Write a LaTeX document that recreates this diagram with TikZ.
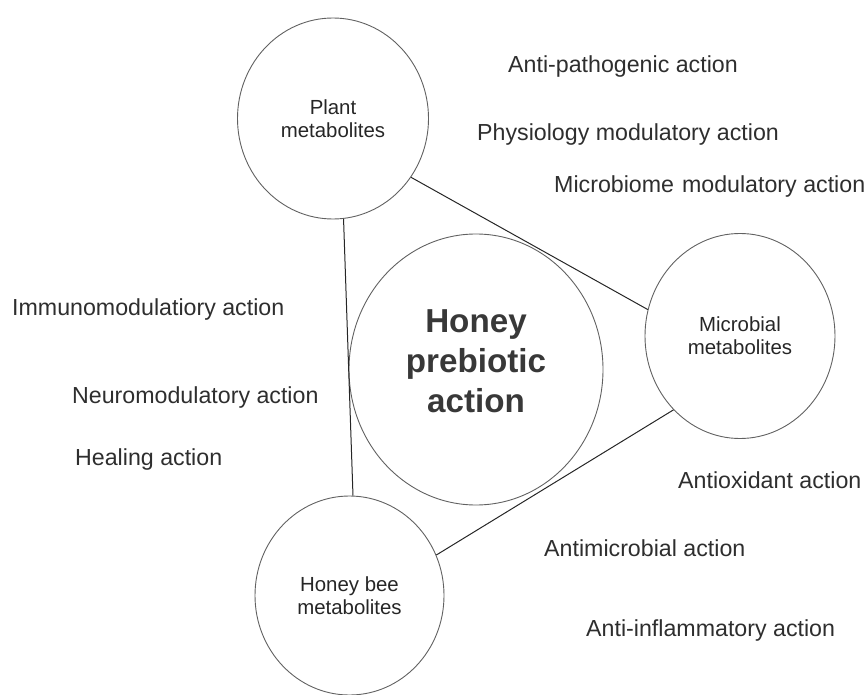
\documentclass[tikz,border=0pt]{standalone}
\usepackage{fontspec}
\setmainfont{Liberation Sans}
\usetikzlibrary{shapes.geometric}
\tikzset{
	source/.style={ellipse, draw=black!62, line width=0.9pt, inner sep=0pt, align=center, text=black!85, font=\fontsize{20.4}{23}\selectfont},
	action/.style={anchor=west, inner sep=0pt, text=black!82, font=\fontsize{23.2}{26}\selectfont},
	link/.style={line width=1pt, color=black!85}
}

\begin{document}
\begin{tikzpicture}[x=1pt, y=-1pt]
		%%%%% START %%%%%
		\useasboundingbox (0, 0) rectangle (868, 695);
		
		\node[source, minimum width=191, minimum height=201] (plant) at (333, 118.5) {Plant\\metabolites};
		\node[source, minimum width=190, minimum height=205] (microbial) at (740, 336) {Microbial\\metabolites};
		\node[source, minimum width=189, minimum height=199] (bee) at (349.5, 595.5) {Honey bee\\metabolites};
		
		\node[ellipse, draw=black!62, line width=0.9pt, inner sep=0pt, minimum width=254, minimum height=271, text depth=16pt, align=center, text=black!78, font=\fontsize{33.2}{40}\selectfont\bfseries] (honey) at (476, 369.5) {Honey\\prebiotic\\action};
		
		\draw[link] (plant.-37.2) -- (microbial.164.8);
		\draw[link] (microbial.-132.2) -- (bee.25.1);
		\draw[link] (plant.-84.3) -- (bee.88.6);
		
		\node[action] (antipath) at (508, 67) {Anti-pathogenic action};
		\node[action] (physio) at (477, 135) {Physiology modulatory action};
		\node[action] (microbiome) at (554, 187) {Microbiome\hspace{8pt}modulatory action};
		
		\node[action] (immuno) at (12, 310) {Immunomodulatiory action};
		\node[action] (neuro) at (72, 398) {Neuromodulatory action};
		\node[action] (healing) at (75, 460) {Healing action};
		
		\node[action] (antiox) at (678, 480) {Antioxidant action};
		\node[action] (antimicro) at (544, 548) {Antimicrobial action};
		\node[action] (antiinfl) at (586, 630) {Anti-inflammatory action};
		%%%%% END %%%%%
	\end{tikzpicture}
\end{document}
